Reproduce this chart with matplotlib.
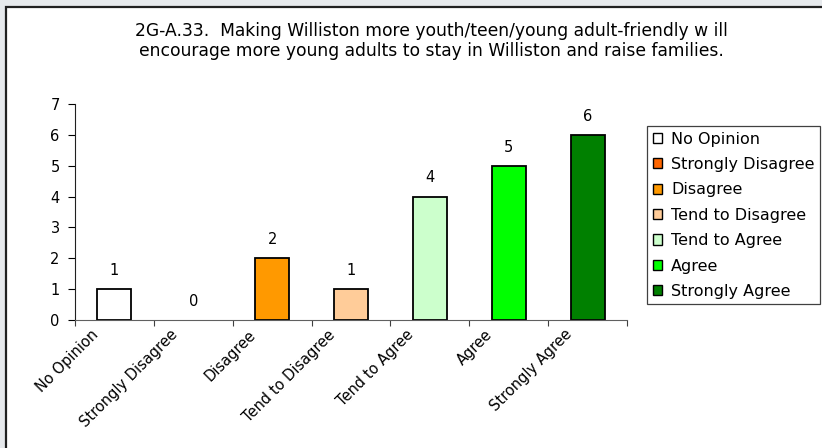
import matplotlib
matplotlib.use("Agg")
import matplotlib.pyplot as plt
from matplotlib.patches import Patch, Rectangle
from matplotlib.transforms import ScaledTranslation

plt.rcParams["font.family"] = ["DejaVu Sans"]

title_text = ("2G-A.33.  Making Williston more youth/teen/young adult-friendly w ill\n"
              "encourage more young adults to stay in Williston and raise families.")
categories = ["No Opinion", "Strongly Disagree", "Disagree", "Tend to Disagree",
              "Tend to Agree", "Agree", "Strongly Agree"]
counts = [1, 0, 2, 1, 4, 5, 6]
bar_colors = ["#FFFFFF", "#FF6600", "#FF9900", "#FFCC99", "#CCFFCC", "#00FF00", "#008000"]

fig = plt.figure(figsize=(8.22, 4.48), dpi=100)
fig.patch.set_facecolor("#E6E9EC")

# white chart panel with dark border (cut off at right/bottom like the screenshot)
W, H = 822, 448
panel = Rectangle((6 / W, -0.05), 1.1, 1 - 7 / H + 0.05, transform=fig.transFigure,
                  facecolor="white", edgecolor="#202020", linewidth=1.6, zorder=-5)
fig.patches.append(panel)

ax = fig.add_axes([75 / W, (H - 320) / H, 552 / W, 216 / H])
ax.set_facecolor("none")
ax.set_zorder(2)

x = range(len(categories))
bars = ax.bar(x, counts, width=0.43, color=bar_colors, edgecolor="black", linewidth=1.3)
for b, c in zip(bars, counts):
    if c == 0:
        b.set_linewidth(0)
ax.bar_label(bars, labels=[str(c) for c in counts], padding=8, fontsize=10.5)

ax.set_xlim(-0.5, len(categories) - 0.5)
ax.set_ylim(0, 7)
ax.set_yticks(range(0, 8))
ax.set_xticks([i - 0.5 for i in range(len(categories) + 1)])
ax.set_xticklabels([])
ax.set_xticks(list(x), minor=True)
ax.set_xticklabels(categories, minor=True, rotation=45, ha="right", fontsize=10.5)
ax.tick_params(axis="x", which="minor", length=0, pad=5)
ax.tick_params(axis="x", which="major", length=4, direction="out", color="#404040")
ax.tick_params(axis="y", length=5, direction="out", labelsize=10.5, pad=6)

shift = ScaledTranslation(-13 / 100, 0, fig.dpi_scale_trans)
for lbl in ax.get_xticklabels(minor=True):
    lbl.set_transform(lbl.get_transform() + shift)

for side in ["top", "right"]:
    ax.spines[side].set_visible(False)
ax.spines["left"].set_color("#202020")
ax.spines["bottom"].set_color("#606060")

fig.text(431 / W, 1 - 41 / H, title_text, ha="center", va="center", fontsize=12.3,
         linespacing=1.15)

handles = [Patch(facecolor=c, edgecolor="black", linewidth=1.0) for c in bar_colors]
leg = fig.legend(handles, categories, loc="upper left",
                 bbox_to_anchor=(647 / W, 1 - 126 / H), bbox_transform=fig.transFigure,
                 fontsize=11.5, handlelength=0.6, handleheight=0.6, handletextpad=0.55,
                 labelspacing=0.65, borderpad=0.35, borderaxespad=0, fancybox=False,
                 shadow=False, framealpha=1)
leg.get_frame().set_edgecolor("#404040")
leg.get_frame().set_linewidth(0.9)

fig.savefig("out.png", dpi=100)
